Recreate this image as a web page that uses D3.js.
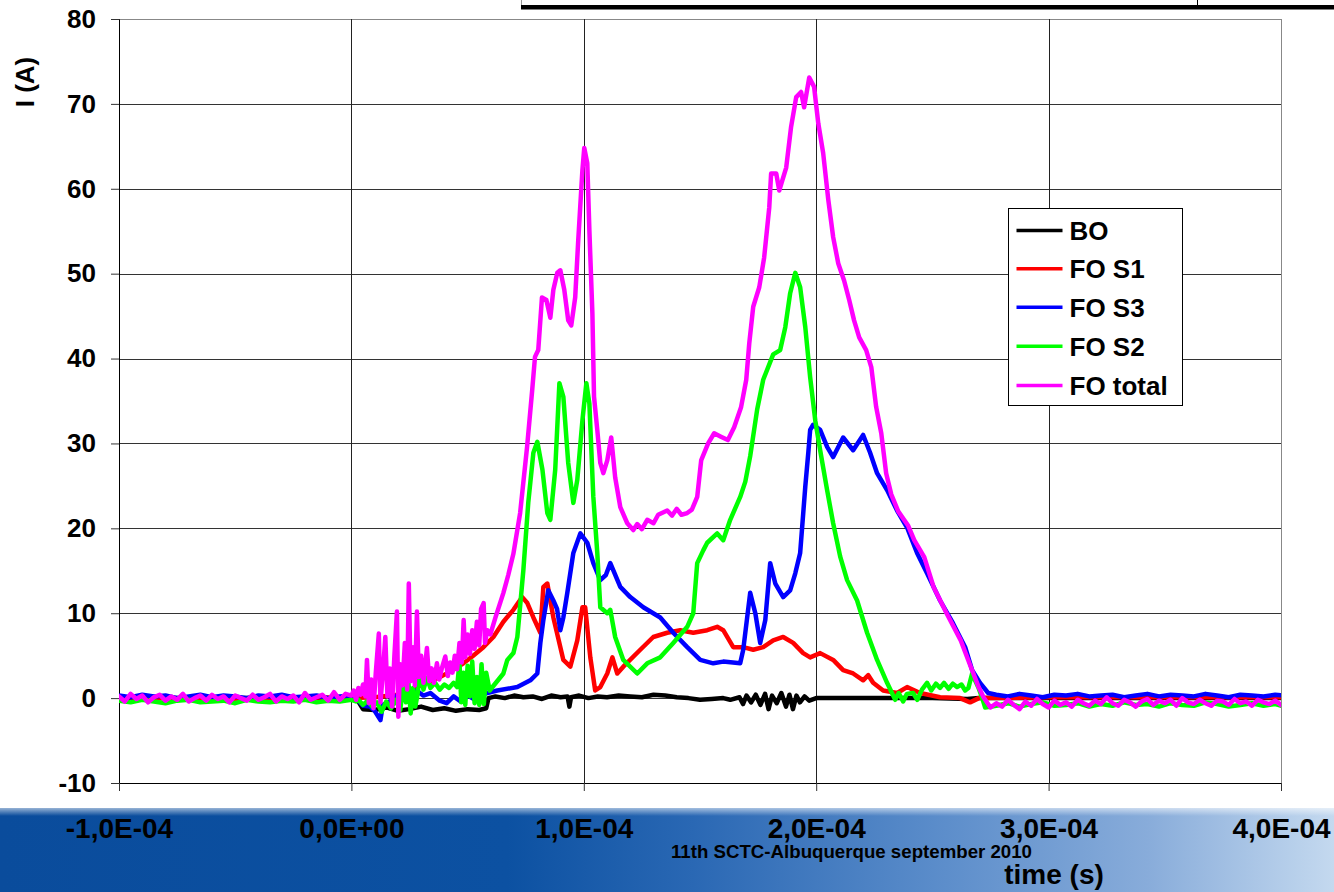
<!DOCTYPE html>
<html>
<head>
<meta charset="utf-8">
<script src="https://cdnjs.cloudflare.com/ajax/libs/d3/7.8.5/d3.min.js"></script>
<style>
body { margin: 0; background: #fff; }
svg { display: block; font-family: Arial, "Liberation Sans", sans-serif; font-weight: bold; }
</style>
</head>
<body>
<svg width="1334" height="892"></svg>
<script>
// time in microseconds, current in A
var xTicks = [-100, 0, 100, 200, 300, 400];
var xTickLabels = ['-1,0E-04', '0,0E+00', '1,0E-04', '2,0E-04', '3,0E-04', '4,0E-04'];
var yTicks = [-10, 0, 10, 20, 30, 40, 50, 60, 70, 80];
var seriesNames = ['BO', 'FO S1', 'FO S3', 'FO S2', 'FO total'];
var seriesColors = ['#000000', '#ff0000', '#0000ff', '#00ff00', '#ff00ff'];

// baseline noise, sampled at a fixed step
var totalPre = [0.2, -0.4, 0.5, -0.1, 0.3, -0.5, 0.1, 0.4, -0.3, 0.2, -0.2, 0.5, -0.4, 0.0, 0.3, -0.3, 0.4, -0.1, 0.2, -0.5,
    0.3, 0.0, -0.3, 0.4, -0.2, 0.1, 0.5, -0.4, 0.2, -0.1, 0.3, -0.5, 0.6, -0.2, 0.1, 0.4, -0.3, 0.7, -0.2, 0.5, 0.3];
var totalPost = [-0.6, -1.0, -0.2, -0.8, -1.3, -0.4, -0.9, -0.1, -0.7, -1.1, -0.3, -0.8, -0.5, -1.0, -0.2, -0.6, -0.9, -0.3, -0.7, 0.1,
    -0.6, -0.9, -0.2, -0.5, -1.0, -0.4, -0.1, -0.8, -0.3, -0.6, -0.2, -0.9, 0.0, -0.5, -0.7, -0.2, -0.6, -0.9, -0.3, -0.4,
    -0.8, -0.1, -0.6, -0.4, -0.9, -0.2, -0.5, -0.7, -0.3, -0.8];
var s2Pre = [-0.3, -0.5, -0.2, -0.4, -0.6, -0.3, -0.2, -0.5, -0.4, -0.3, -0.6, -0.2, -0.4, -0.5, -0.3, -0.4, -0.2, -0.5, -0.3, -0.4, -0.2];
var s2Post = [-0.9, -0.6, -1.0, -0.7, -0.5, -0.9, -0.8, -0.6, -1.0, -0.7, -0.9, -0.5, -0.8, -0.7, -1.0, -0.6, -0.8, -0.9, -0.5, -0.7,
    -1.0, -0.8, -0.6, -0.9, -0.7, -1.1];
var s3Pre = [0.3, 0.1, 0.4, 0.2, 0.3, 0.0, 0.2, 0.4, 0.1, 0.3, 0.2, 0.0, 0.3, 0.2, 0.4, 0.1, 0.2, 0.3, 0.0, 0.2, 0.3];
var s3Post = [0.4, 0.2, 0.5, 0.3, 0.1, 0.4, 0.3, 0.5, 0.2, 0.3, 0.4, 0.1, 0.3, 0.5, 0.2, 0.4, 0.3, 0.2, 0.5, 0.3,
    0.1, 0.4, 0.3, 0.2, 0.4, 0.3];

var totalMain = [[1, 0.9], [2, -0.2], [3, 1.2], [4, 0.4], [5, 1.6], [6, 0.2], [6.7, 4.5], [7.5, -0.6], [8.5, 2.2], [9.5, -1.2],
    [10.5, 3.0], [11.8, 7.6], [12.5, -0.5], [13.5, 2.8], [14.6, 7.2], [15.5, 0.2], [16.5, 3.5], [17.5, -1.0], [18.5, 5.0],
    [19.6, 10.2], [20.2, -2.2], [21, 4.0], [22, 1.5], [23, 6.5], [24, 1.0], [24.7, 13.5], [25.5, 2.0], [26.5, 6.0], [27.3, 1.5],
    [28.2, 10.2], [29, 2.5], [30, 5.0], [31, 1.8], [32.5, 5.9], [33.5, 2.0], [34.5, 3.5], [35.5, 1.8], [36.8, 4.1], [37.8, 2.2],
    [39, 3.6], [40.4, 4.9], [41.5, 2.6], [42.5, 4.2], [43.5, 3.0], [44.5, 5.0], [45.5, 3.4], [46.5, 6.5], [47.5, 4.2], [48.3, 9.2],
    [49, 4.8], [50, 7.5], [51, 5.2], [52, 8.0], [53, 5.8], [54, 9.0], [55, 6.2], [55.8, 10.5], [56.9, 11.2], [57.5, 6.5],
    [58.5, 8.0], [59.8, 7.5], [62, 9.5], [65.4, 12.4], [67.5, 14.5], [69.7, 17.0], [72.6, 21.8], [75.6, 29.6], [77.8, 36.3],
    [79, 40.2], [80.4, 41.0], [82, 47.2], [83.9, 46.9], [85.6, 44.8], [86.9, 48.1], [88.6, 50.1], [89.9, 50.4], [91.6, 48.1],
    [93.3, 44.5], [94.6, 43.9], [96.3, 47.2], [97.6, 53.9], [99.4, 62.2], [100.2, 64.8], [101.5, 63.0], [102.4, 55.1],
    [103.7, 45.3], [104.4, 35.5], [105.8, 31.6], [107.1, 27.7], [108.4, 26.5], [110.1, 28.0], [111.8, 30.7], [113.5, 26.0],
    [115.7, 22.5], [118.7, 20.6], [121.3, 19.8], [123, 20.5], [125, 19.9], [127.3, 21.0], [130, 20.6], [132, 21.6], [135.9, 22.1],
    [138, 21.5], [140, 22.3], [142, 21.6], [144.5, 21.8], [146.5, 22.2], [148.8, 23.7], [150.5, 28.0], [153.5, 30.0],
    [156.1, 31.2], [159, 30.8], [162, 30.4], [164.7, 31.9], [167.7, 34.3], [169.9, 37.5], [171.2, 41.8], [172.9, 46.1],
    [175.5, 48.4], [177.6, 51.9], [179.8, 57.8], [180.6, 61.8], [182.8, 61.8], [184.1, 59.8], [187.1, 62.5], [189.2, 67.3],
    [191.4, 70.8], [193.5, 71.4], [194.8, 69.6], [197, 73.1], [199.1, 72.0], [200.9, 67.7], [203, 64.2], [205.2, 58.7],
    [207.3, 54.3], [209.5, 51.2], [212, 49.2], [214.2, 46.9], [216.3, 44.5], [218.5, 42.5], [221.5, 41.0], [223.7, 39.0],
    [225.8, 34.3], [228, 31.2], [230.1, 26.5], [232.3, 24.0], [235.3, 22.0], [239.6, 20.3], [242.2, 18.6], [246.5, 16.6],
    [250.5, 13.1], [256.1, 10.0], [262.2, 6.8], [266.5, 3.7], [269.9, 1.3], [272, 0.1], [275, -1.1]];

var s2Main = [[2, -0.4], [3, -0.2], [5, -0.8], [7, -0.3], [9, -1.0], [11, -0.5], [13, -1.6], [15, -0.4], [17, -1.2], [19, -0.2],
    [21, -1.4], [22.5, 1.6], [23.5, -0.5], [24.5, 2.0], [25.5, -1.8], [26.5, 1.2], [27.5, -1.0], [28.5, 0.5], [29.7, 3.5],
    [31, 1.0], [32.5, 2.4], [34, 1.2], [36, 1.8], [38, 1.0], [40, 1.6], [42, 1.2], [44, 1.8], [45.5, 1.3], [46.5, 4.2],
    [47.3, -0.5], [48.2, 3.0], [49, -0.8], [50, 3.8], [51, 0.2], [52, 4.3], [53, -0.6], [54, 2.5], [55, -0.8], [56, 4.0],
    [57, -0.7], [58, 3.0], [59.5, 0.9], [65.4, 2.9], [67.1, 4.5], [69.7, 5.3], [71.4, 7.2], [74.0, 15.1], [76.1, 23.0],
    [78.3, 28.9], [80.0, 30.2], [82.2, 26.9], [84.3, 21.8], [85.6, 21.0], [87.7, 26.9], [89.5, 37.1], [91.2, 35.5],
    [93.3, 27.7], [95.5, 23.0], [97.2, 25.7], [99.4, 32.7], [101.1, 37.1], [102.4, 34.7], [104.1, 23.7], [105.8, 17.1],
    [107.1, 10.7], [110.1, 10.0], [111.4, 10.4], [113.5, 7.2], [117.0, 4.5], [123.0, 2.9], [127.3, 4.1], [132.9, 4.8],
    [138.5, 6.5], [144.5, 8.4], [147.1, 10.0], [148.8, 15.9], [151.4, 17.4], [153.1, 18.3], [157.4, 19.4], [160.0, 18.6],
    [163.0, 21.0], [167.3, 23.7], [169.5, 25.5], [171.6, 28.5], [174.6, 34.0], [177.2, 37.5], [181.5, 40.5], [184.5, 41.0],
    [186.7, 43.7], [188.8, 47.7], [191.0, 50.1], [193.1, 48.4], [195.3, 43.7], [197.4, 37.8], [199.6, 32.7], [201.7, 29.2],
    [204.7, 24.5], [207.3, 20.6], [210.3, 16.7], [213.3, 13.9], [217.6, 11.5], [221.9, 7.7], [226.2, 4.5], [230.5, 1.8],
    [234, -0.2], [235.5, 0.6], [237.4, -0.4], [239, 0.5], [241.7, 0.6], [243.5, -0.2], [245.5, 1.0], [247.7, 1.8], [249.5, 0.9],
    [251.5, 1.7], [253.3, 1.2], [255, 1.8], [257, 1.1], [258.8, 1.7], [260.6, 1.3], [262.5, 1.6], [264.1, 0.9], [265.5, 1.2],
    [267.1, 2.9], [268.5, 2.0], [269.7, 1.3], [271.2, 0.2], [272.7, -1.1]];

var s3Main = [[2, 0.2], [3, -0.3], [5, -0.9], [8, -1.0], [10, -1.5], [12.5, -2.6], [13.5, -0.8], [16, -0.5], [20, 0.4],
    [24, -0.2], [28, 0.9], [31, 0.3], [34, 0.6], [38, -0.3], [41, -0.6], [44, 0.2], [47, -0.4], [50, 0.3], [54, -0.3],
    [57, 0.5], [58.5, 0.6], [62.8, 0.9], [71.4, 1.3], [77, 2.1], [80, 2.9], [81.3, 6.5], [82.6, 9.2], [84.7, 12.7],
    [86.9, 11.5], [88.5, 10.5], [89.9, 8.0], [91.2, 9.5], [92.9, 12.4], [95.5, 17.1], [98.5, 19.4], [101.5, 18.3],
    [104.1, 15.9], [107.1, 13.9], [109.5, 14.5], [111.4, 15.9], [115.7, 13.1], [120, 11.9], [125.6, 10.7], [132.9, 9.5],
    [138.5, 7.7], [144.5, 6.0], [150.1, 4.5], [155.7, 4.1], [160, 4.3], [167.3, 4.1], [168.6, 5.7], [171.6, 12.4],
    [173.8, 10.0], [175.9, 6.5], [178.1, 9.2], [180.2, 15.9], [182.4, 13.5], [185.8, 11.9], [188.8, 12.7], [191, 14.7],
    [193.1, 17.1], [195.3, 24.9], [196.6, 28.9], [197.4, 31.6], [198.7, 32.2], [201.7, 31.6], [204.7, 29.6], [207.3, 28.4],
    [211.6, 30.7], [215.9, 29.2], [220.2, 31.0], [223.2, 28.9], [226.2, 26.5], [230.5, 24.5], [234.8, 22.1], [239.1, 20.1],
    [243.4, 17.1], [247.7, 14.7], [253.3, 11.5], [258.9, 8.8], [264.1, 6.0], [267.1, 3.3], [270.5, 1.8], [274, 0.6]];

var s1Data = [[-100, 0.1], [-60, -0.1], [-20, 0.1], [0, 0.0], [10, 0.1], [20, 0.4], [25, 0.9], [29.7, 1.5], [34, 2.0],
    [38.3, 2.5], [43, 3.2], [48.2, 4.1], [52, 4.9], [56.8, 6.0], [61.1, 7.2], [65.4, 9.0], [69.7, 10.4], [73.5, 11.9],
    [75.7, 11.2], [78.3, 9.5], [81.3, 7.7], [82.6, 13.1], [84.3, 13.5], [86.9, 9.5], [91.2, 4.5], [94.2, 3.7], [97.2, 6.8],
    [99.4, 10.7], [100.6, 10.7], [102.8, 4.8], [104.9, 0.9], [107.1, 1.3], [110.1, 2.9], [112.3, 4.8], [114.4, 2.9],
    [117, 3.7], [124.3, 5.7], [129.9, 7.2], [135.9, 7.7], [141.5, 8.0], [147.1, 7.7], [153.1, 8.0], [157.4, 8.4], [160, 8.0],
    [164.3, 6.0], [168.6, 6.0], [172.9, 5.7], [177.2, 6.0], [181.5, 6.8], [185.8, 7.2], [190.1, 6.5], [194.4, 5.3],
    [197.4, 4.8], [201.7, 5.3], [207.3, 4.5], [211.6, 3.3], [215.9, 2.9], [220.2, 2.1], [222.4, 2.7], [224.5, 1.8],
    [228.8, 0.9], [234.8, 0.6], [239.1, 1.3], [244.7, 0.6], [253.3, 0.1], [261.9, 0.0], [266.2, -0.5], [270, 0.0],
    [300, 0.1], [400, 0.1]];

var boData = [[-100, 0.0], [0, 0.0], [3, -0.4], [5, -1.3], [10, -1.4], [15, -1.1], [20, -1.5], [25, -1.3], [30, -1.0],
    [35, -1.4], [40, -1.2], [45, -1.5], [50, -1.3], [55, -1.4], [58, -1.2], [59, 0.0], [62, 0.2], [66, 0.0], [70, 0.3],
    [74, 0.1], [78, 0.2], [82, -0.1], [86, 0.3], [90, 0.1], [93, 0.2], [93.8, -1.0], [94.5, 0.1], [98, 0.3], [102, 0.0],
    [106, 0.2], [110, 0.1], [115, 0.3], [120, 0.2], [125, 0.1], [130, 0.4], [135, 0.3], [140, 0.1], [145, 0.0], [150, -0.2],
    [155, -0.1], [160, 0.0], [163, -0.2], [167, 0.1], [168.5, -0.7], [170, 0.3], [172, -0.5], [174, 0.4], [176, -0.8],
    [178, 0.5], [179.5, -1.3], [181, 0.3], [183, -0.6], [185, 0.6], [187, -1.0], [188.5, 0.4], [190, -1.3], [191.5, 0.3],
    [193, -0.5], [195, 0.2], [197, -0.3], [200, 0.0], [220, 0.0], [250, 0.0], [265, -0.1], [270, 0.0], [400, 0.0]];

function sampled(t0, step, values) {
    return values.map(function (v, i) { return [t0 + i * step, v]; });
}

var series = [
    boData,
    s1Data,
    sampled(-100, 5, s3Pre).concat(s3Main).concat(sampled(277.5, 5, s3Post)),
    sampled(-100, 5, s2Pre).concat(s2Main).concat(sampled(277.5, 5, s2Post)),
    sampled(-100, 2.5, totalPre).concat(totalMain).concat(sampled(277.5, 2.5, totalPost))
];

function init() {
    var svg = d3.select('svg');
    var left = 119, right = 1281, top = 19, bottom = 783;
    var x = d3.scaleLinear().domain([-100, 400]).range([left, right]);
    var y = d3.scaleLinear().domain([-10, 80]).range([bottom, top]);
    var defs = svg.append('defs');

    // slide banner at the bottom
    var bg = defs.append('linearGradient').attr('id', 'banner');
    bg.append('stop').attr('offset', '0').attr('stop-color', '#0a4c9c');
    bg.append('stop').attr('offset', '0.38').attr('stop-color', '#0c51a2');
    bg.append('stop').attr('offset', '0.52').attr('stop-color', '#2a68b4');
    bg.append('stop').attr('offset', '0.7').attr('stop-color', '#5a8cca');
    bg.append('stop').attr('offset', '0.86').attr('stop-color', '#88acda');
    bg.append('stop').attr('offset', '1').attr('stop-color', '#c4d9ef');
    var fade = defs.append('linearGradient').attr('id', 'fade')
        .attr('x1', 0).attr('y1', 0).attr('x2', 0).attr('y2', 1);
    fade.append('stop').attr('offset', '0').attr('stop-color', '#ffffff').attr('stop-opacity', 1);
    fade.append('stop').attr('offset', '1').attr('stop-color', '#ffffff').attr('stop-opacity', 0);
    svg.append('rect').attr('x', 0).attr('y', 808).attr('width', 1334).attr('height', 84).attr('fill', 'url(#banner)');
    svg.append('rect').attr('x', 0).attr('y', 802).attr('width', 1334).attr('height', 14).attr('fill', 'url(#fade)');

    // leftover of a table at the top of the slide
    svg.append('rect').attr('x', 521.5).attr('y', -2).attr('width', 820).attr('height', 9)
        .attr('fill', '#fff').attr('stroke', '#999');
    svg.append('rect').attr('x', 521).attr('y', 5).attr('width', 813).attr('height', 4.5).attr('fill', '#000');
    svg.append('line').attr('x1', 1197.5).attr('x2', 1197.5).attr('y1', 0).attr('y2', 6).attr('stroke', '#000');

    defs.append('clipPath').attr('id', 'plot')
        .append('rect').attr('x', left).attr('y', top).attr('width', right - left).attr('height', bottom - top);

    // grid
    svg.append('g').selectAll('line').data(yTicks.slice(1)).enter().append('line')
        .attr('x1', left).attr('x2', right)
        .attr('y1', function (d) { return Math.round(y(d)) + 0.5; })
        .attr('y2', function (d) { return Math.round(y(d)) + 0.5; })
        .attr('stroke', function (d) { return d === 80 ? '#888' : '#333'; });
    svg.append('g').selectAll('line').data(xTicks.slice(1)).enter().append('line')
        .attr('y1', top).attr('y2', bottom)
        .attr('x1', function (d) { return Math.round(x(d)) + 0.5; })
        .attr('x2', function (d) { return Math.round(x(d)) + 0.5; })
        .attr('stroke', function (d) { return d === 400 ? '#888' : '#222'; });

    // axes
    var yAxis = svg.append('g').attr('transform', 'translate(' + left + ',0)')
        .call(d3.axisLeft(y).tickValues(yTicks).tickSize(8).tickPadding(15)
            .tickFormat(function (d) { return String(d); }));
    var xAxis = svg.append('g').attr('transform', 'translate(0,' + bottom + ')')
        .call(d3.axisBottom(x).tickValues(xTicks).tickSize(8).tickPadding(27)
            .tickFormat(function (d, i) { return xTickLabels[i]; }));
    [yAxis, xAxis].forEach(function (a) {
        a.select('.domain').attr('stroke', '#000');
        a.selectAll('.tick line').attr('stroke', '#333');
        a.selectAll('text').attr('fill', '#000').attr('font-family', 'Arial, "Liberation Sans", sans-serif')
            .attr('font-weight', 'bold');
    });
    yAxis.selectAll('text').attr('font-size', 26);
    xAxis.selectAll('text').attr('font-size', 28);

    // traces
    var line = d3.line()
        .x(function (d) { return x(d[0]); })
        .y(function (d) { return y(d[1]); });
    svg.append('g').attr('clip-path', 'url(#plot)')
        .selectAll('path').data(series).enter().append('path')
        .attr('d', line)
        .attr('fill', 'none')
        .attr('stroke', function (d, i) { return seriesColors[i]; })
        .attr('stroke-width', 4.5)
        .attr('stroke-linejoin', 'round')
        .attr('stroke-linecap', 'round');

    // legend
    var legend = svg.append('g').attr('transform', 'translate(1008.5,208.5)');
    legend.append('rect').attr('width', 174).attr('height', 197).attr('fill', '#fff').attr('stroke', '#000');
    var rowY = [22, 60.3, 98.7, 137.7, 177];
    var item = legend.selectAll('.item').data(seriesNames).enter().append('g')
        .attr('class', 'item')
        .attr('transform', function (d, i) { return 'translate(0,' + rowY[i] + ')'; });
    item.append('line').attr('x1', 8).attr('x2', 54)
        .attr('stroke', function (d, i) { return seriesColors[i]; }).attr('stroke-width', 3.5);
    item.append('text').attr('x', 61).attr('dy', '0.36em').attr('font-size', 26).text(function (d) { return d; });

    // titles
    svg.append('text').attr('transform', 'translate(34,82) rotate(-90)')
        .attr('text-anchor', 'middle').attr('font-size', 26).text('I (A)');
    svg.append('text').attr('x', 1054).attr('y', 884).attr('text-anchor', 'middle')
        .attr('font-size', 28).text('time (s)');
    svg.append('text').attr('x', 671).attr('y', 858).attr('font-size', 18)
        .attr('textLength', 361).attr('lengthAdjust', 'spacingAndGlyphs')
        .text('11th SCTC-Albuquerque september 2010');
}
init();
</script>
</body>
</html>
